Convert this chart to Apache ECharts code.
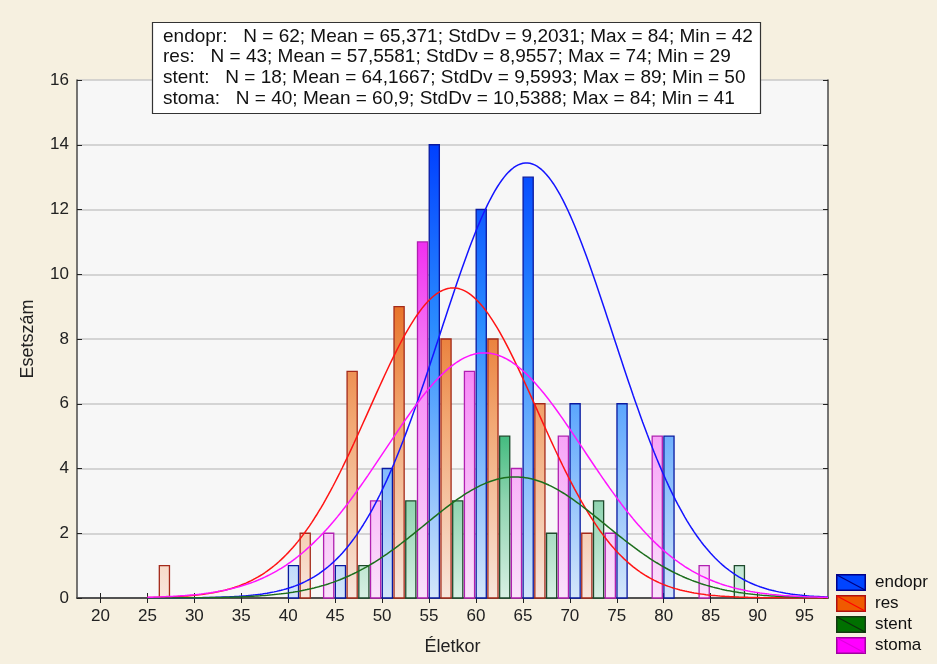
<!DOCTYPE html>
<html>
<head>
<meta charset="utf-8">
<script src="https://cdn.jsdelivr.net/npm/echarts@6/dist/echarts.min.js"></script>
<style>
  html, body { margin: 0; padding: 0; background: #f6f0e0; }
  #chart { width: 937px; height: 664px; }
</style>
</head>
<body>
<div id="chart"></div>
<script>
// Histogram bins (left edge of each 5-year age class)
const binStarts = [25, 30, 35, 40, 45, 50, 55, 60, 65, 70, 75, 80, 85];
const binWidth = 5;

// Case counts per bin for each group
const endoprCounts = [0, 0, 0, 1, 1, 4, 14, 12, 13, 6, 6, 5, 0];
const resCounts    = [1, 0, 0, 2, 7, 9, 8, 8, 6, 2, 0, 0, 0];
const stentCounts  = [0, 0, 0, 0, 1, 3, 3, 5, 2, 3, 0, 0, 1];
const stomaCounts  = [0, 0, 0, 2, 3, 11, 7, 4, 5, 2, 5, 1, 0];

// Descriptive statistics per group (as printed, decimal comma)
const groupNames = ['endopr', 'res', 'stent', 'stoma'];
const statN      = ['62', '43', '18', '40'];
const statMean   = ['65,371', '57,5581', '64,1667', '60,9'];
const statSd     = ['9,2031', '8,9557', '9,5993', '10,5388'];
const statMax    = ['84', '74', '89', '84'];
const statMin    = ['42', '29', '50', '41'];

// Axis ticks
const xTicks = [20, 25, 30, 35, 40, 45, 50, 55, 60, 65, 70, 75, 80, 85, 90, 95];

const countsByGroup = [endoprCounts, resCounts, stentCounts, stomaCounts];

// Styling per group
const styles = [
  { line: '#1414ff', border: '#0a1aa0', stops: ['#0040ff', '#2b8cff', '#d4e6fa'], top: 14,
    swatch: ['#0044ff', '#00008a', '#000080'] },
  { line: '#ff1414', border: '#a42a1a', stops: ['#e8742a', '#f2a874', '#f8e6dc'], top: 9,
    swatch: ['#f05a00', '#b01010', '#ff0000'] },
  { line: '#1c6e1c', border: '#1e4a2c', stops: ['#44bb80', '#8fd4b0', '#d8f0e4'], top: 5,
    swatch: ['#007000', '#123a12', '#0c2c0c'] },
  { line: '#ff14ff', border: '#b020b0', stops: ['#f030f0', '#f790f7', '#fae2fa'], top: 11,
    swatch: ['#ff00ff', '#a000a0', '#e000e0'] }
];

const toNum = s => parseFloat(s.replace(',', '.'));
const slot = binWidth / groupNames.length;

// Bar rectangles: [xStart, xEnd, count]
function barData(gi) {
  const out = [];
  countsByGroup[gi].forEach((c, i) => {
    if (c > 0) {
      const s = binStarts[i] + gi * slot;
      out.push([s + 0.02, s + 1.1, c]);
    }
  });
  return out;
}

// Fitted normal curve scaled to counts per bin (N * bin width * density)
function normalCurve(gi) {
  const n = toNum(statN[gi]), m = toNum(statMean[gi]), sd = toNum(statSd[gi]);
  const pts = [];
  for (let x = 25; x <= 97.5; x += 0.25) {
    const z = (x - m) / sd;
    pts.push([x, n * binWidth * Math.exp(-0.5 * z * z) / (sd * Math.sqrt(2 * Math.PI))]);
  }
  return pts;
}

function swatchIcon(c) {
  const svg = '<svg xmlns="http://www.w3.org/2000/svg" width="30" height="17">' +
    '<rect x="0.75" y="0.75" width="28.5" height="15.5" fill="' + c[0] + '" stroke="' + c[1] + '" stroke-width="1.5"/>' +
    '<line x1="1" y1="1" x2="29" y2="16" stroke="' + c[2] + '" stroke-width="1.2"/></svg>';
  return 'image://data:image/svg+xml;charset=utf-8,' + encodeURIComponent(svg);
}

const statsText = groupNames.map((g, i) =>
  g + ':   N = ' + statN[i] + '; Mean = ' + statMean[i] + '; StdDv = ' + statSd[i] +
  '; Max = ' + statMax[i] + '; Min = ' + statMin[i]).join('\n');

const series = [];
groupNames.forEach((g, gi) => {
  const st = styles[gi];
  series.push({
    name: g,
    type: 'custom',
    xAxisIndex: 0, yAxisIndex: 0,
    encode: { x: [0, 1], y: 2 },
    data: barData(gi),
    z: 2,
    renderItem: function (params, api) {
      const p0 = api.coord([api.value(0), api.value(2)]);
      const p1 = api.coord([api.value(1), 0]);
      const gTop = api.coord([0, st.top])[1];
      const gBot = api.coord([0, 0])[1];
      return {
        type: 'rect',
        shape: { x: p0[0], y: p0[1], width: p1[0] - p0[0], height: p1[1] - p0[1] },
        style: {
          fill: new echarts.graphic.LinearGradient(0, gTop, 0, gBot, [
            { offset: 0, color: st.stops[0] },
            { offset: 0.4, color: st.stops[1] },
            { offset: 1, color: st.stops[2] }
          ], true),
          stroke: st.border,
          lineWidth: 1.3
        }
      };
    }
  });
});
groupNames.forEach((g, gi) => {
  series.push({
    name: g,
    type: 'line',
    xAxisIndex: 0, yAxisIndex: 0,
    data: normalCurve(gi),
    showSymbol: false,
    smooth: false,
    z: 3,
    lineStyle: { color: styles[gi].line, width: 1.5 },
    itemStyle: { color: styles[gi].line },
    silent: true
  });
});

const fontFamily = 'Liberation Sans, Arial, sans-serif';
const tickFont = { fontFamily: fontFamily, fontSize: 17, color: '#222' };
const nameFont = { fontFamily: fontFamily, fontSize: 18, color: '#222' };
const frameLine = { show: true, lineStyle: { color: '#4a4a4a', width: 1.5 } };

const option = {
  backgroundColor: '#f6f0e0',
  animation: false,
  title: {
    text: statsText,
    left: 152, top: 22,
    padding: [4, 8, 5, 11],
    backgroundColor: '#ffffff',
    borderColor: '#333333',
    borderWidth: 1.2,
    textStyle: {
      fontFamily: fontFamily,
      fontSize: 19, fontWeight: 'normal', color: '#111', lineHeight: 20.7
    },
    z: 10
  },
  legend: {
    orient: 'vertical',
    left: 836, top: 574,
    padding: 0,
    itemWidth: 30, itemHeight: 17, itemGap: 4,
    textStyle: { fontFamily: fontFamily, fontSize: 17, color: '#111', padding: [0, 0, 0, 4] },
    data: groupNames.map((g, gi) => ({ name: g, icon: swatchIcon(styles[gi].swatch) })),
    selectedMode: false
  },
  grid: {
    left: 77, right: 109, top: 80, bottom: 66,
    show: true, backgroundColor: '#f7f7f7', borderWidth: 0
  },
  xAxis: [
    {
      type: 'value', min: 17.5, max: 97.5, position: 'bottom',
      name: 'Életkor', nameLocation: 'middle', nameGap: 40,
      nameTextStyle: nameFont,
      axisLine: frameLine,
      axisTick: { show: true, inside: true, length: 5, customValues: xTicks, lineStyle: { color: '#222' } },
      axisLabel: Object.assign({ customValues: xTicks, margin: 10 }, tickFont),
      splitLine: { show: false }
    },
    {
      type: 'value', min: 17.5, max: 97.5, position: 'top',
      axisLine: frameLine,
      axisTick: { show: true, inside: true, length: 5, customValues: xTicks, lineStyle: { color: '#222' } },
      axisLabel: { show: false },
      splitLine: { show: false }
    }
  ],
  yAxis: [
    {
      type: 'value', min: 0, max: 16, interval: 2, position: 'left',
      name: 'Esetszám', nameLocation: 'middle', nameGap: 40, nameRotate: 90,
      nameTextStyle: nameFont,
      axisLine: frameLine,
      axisTick: { show: true, inside: true, length: 5, lineStyle: { color: '#222' } },
      axisLabel: Object.assign({ margin: 8 }, tickFont),
      splitLine: { show: true, lineStyle: { color: '#c9c9c9', width: 1.5 } }
    },
    {
      type: 'value', min: 0, max: 16, interval: 2, position: 'right',
      axisLine: frameLine,
      axisTick: { show: true, inside: true, length: 5, lineStyle: { color: '#222' } },
      axisLabel: { show: false },
      splitLine: { show: false }
    }
  ],
  series: series
};

const chart = echarts.init(document.getElementById('chart'), null, { renderer: 'canvas' });
chart.setOption(option);
</script>
</body>
</html>
